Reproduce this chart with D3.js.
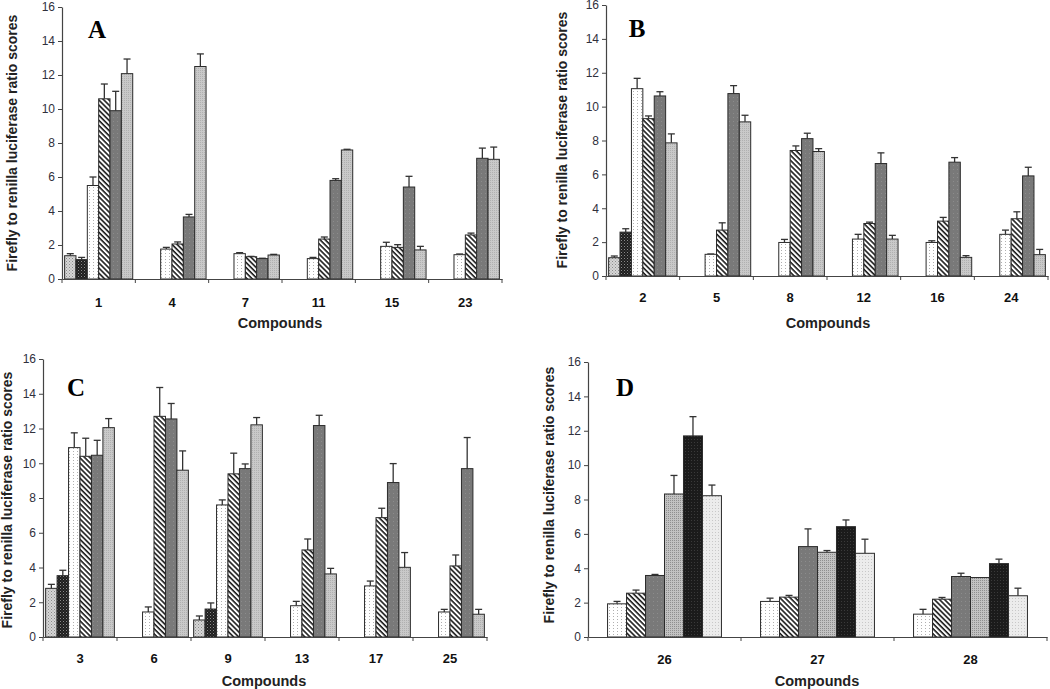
<!DOCTYPE html>
<html>
<head>
<meta charset="utf-8">
<script src="https://cdn.jsdelivr.net/npm/d3@7"></script>
<style>
  html, body { margin: 0; padding: 0; background: #fff; }
  svg { display: block; }
</style>
</head>
<body>
<svg id="chart" width="1050" height="689"></svg>
<script>
// ---------------- DATA ----------------
const yTicks = [0, 2, 4, 6, 8, 10, 12, 14, 16];
const yLabel = "Firefly to renilla luciferase ratio scores";
const xLabel = "Compounds";

// Panel A
const catsA = ["1", "4", "7", "11", "15", "23"];
const valsA = [
  [1.37, null, null, null, null, null],
  [1.14, null, null, null, null, null],
  [5.5, 1.76, 1.49, 1.2, 1.92, 1.43],
  [10.6, 2.06, 1.31, 2.35, 1.86, 2.59],
  [9.9, 3.65, 1.2, 5.8, 5.41, 7.1],
  [12.08, 12.5, 1.41, 7.59, 1.71, 7.04]
];
const errA = [
  [0.12, null, null, null, null, null],
  [0.13, null, null, null, null, null],
  [0.5, 0.1, 0.06, 0.07, 0.24, 0.04],
  [0.87, 0.12, 0.02, 0.12, 0.16, 0.11],
  [1.14, 0.15, 0.02, 0.1, 0.63, 0.6],
  [0.86, 0.74, 0.04, 0.04, 0.21, 0.72]
];

// Panel B
const catsB = ["2", "5", "8", "12", "16", "24"];
const valsB = [
  [1.08, null, null, null, null, null],
  [2.59, null, null, null, null, null],
  [11.06, 1.28, 1.98, 2.18, 1.98, 2.46],
  [9.29, 2.71, 7.41, 3.1, 3.24, 3.38],
  [10.63, 10.77, 8.11, 6.64, 6.72, 5.91],
  [7.86, 9.1, 7.35, 2.18, 1.1, 1.26]
];
const errB = [
  [0.1, null, null, null, null, null],
  [0.2, null, null, null, null, null],
  [0.61, 0.02, 0.18, 0.28, 0.1, 0.25],
  [0.16, 0.43, 0.27, 0.08, 0.22, 0.41],
  [0.25, 0.47, 0.32, 0.63, 0.27, 0.51],
  [0.53, 0.39, 0.17, 0.22, 0.1, 0.31]
];

// Panel C
const catsC = ["3", "6", "9", "13", "17", "25"];
const valsC = [
  [2.8, null, 0.98, null, null, null],
  [3.53, null, 1.61, null, null, null],
  [10.9, 1.44, 7.6, 1.8, 2.94, 1.44],
  [10.4, 12.7, 9.39, 5.01, 6.87, 4.09],
  [10.46, 12.55, 9.69, 12.17, 8.89, 9.69],
  [12.05, 9.6, 12.21, 3.63, 4.01, 1.31]
];
const errC = [
  [0.23, null, 0.23, null, null, null],
  [0.31, null, 0.35, null, null, null],
  [0.85, 0.29, 0.29, 0.25, 0.28, 0.15],
  [1.04, 1.66, 1.19, 0.63, 0.54, 0.63],
  [0.86, 0.89, 0.27, 0.59, 1.09, 1.79],
  [0.52, 1.11, 0.42, 0.32, 0.85, 0.28]
];

// Panel D
const catsD = ["26", "27", "28"];
const valsD = [
  [1.93, 2.07, 1.33],
  [2.55, 2.32, 2.2],
  [3.58, 5.26, 3.52],
  [8.32, 4.93, 3.46],
  [11.7, 6.42, 4.27],
  [8.22, 4.87, 2.4]
];
const errD = [
  [0.14, 0.19, 0.28],
  [0.18, 0.1, 0.1],
  [0.06, 1.03, 0.19],
  [1.08, 0.1, 0],
  [1.12, 0.39, 0.26],
  [0.62, 0.82, 0.44]
];

// ---------------- PATTERNS ----------------
const SANS = "Arial, 'Liberation Sans', sans-serif";
const SERIF = "'Liberation Serif', 'Times New Roman', 'DejaVu Serif', serif";
const svg = d3.select("#chart");
const defs = svg.append("defs");

function pat(id, w, h, bg, shapes, transform) {
  const p = defs.append("pattern").attr("id", id)
    .attr("patternUnits", "userSpaceOnUse").attr("width", w).attr("height", h);
  if (transform) p.attr("patternTransform", transform);
  p.append("rect").attr("width", w).attr("height", h).attr("fill", bg);
  shapes.forEach(s => p.append("rect").attr("x", s[0]).attr("y", s[1])
    .attr("width", s[2]).attr("height", s[3]).attr("fill", s[4]));
}
pat("p1", 3, 3, "#d6d6d6", [[0, 0, 1, 1, "#8a8a8a"], [1.5, 1.5, 1, 1, "#9a9a9a"]]);
pat("p2", 3, 3, "#1e1e1e", [[0, 0, 1, 1, "#8a8a8a"], [1.5, 1.5, 1, 1, "#555"]]);
pat("p3", 4, 3, "#ffffff", [[1, 1, 1, 1, "#b0b0b0"]]);
pat("p4", 3.6, 3.6, "#ffffff", [[0, 0, 3.6, 1.6, "#1a1a1a"]], "rotate(45)");
pat("p5", 4, 4, "#797979", [[1, 1, 1, 1, "#8c8c8c"]]);
pat("p6", 2, 2, "#c9c9c9", [[0, 0, 1, 1, "#b0b0b0"]]);
pat("d4", 2, 2, "#c2c2c2", [[0, 0, 1, 1, "#8f8f8f"]]);
pat("d5", 3, 3, "#1b1b1b", [[1, 1, 1, 1, "#3a3a3a"]]);
pat("d6", 3, 3, "#ececec", [[1, 1, 1, 1, "#c8c8c8"]]);

const patsABC = ["p1", "p2", "p3", "p4", "p5", "p6"];
const patsD = ["p3", "p4", "p5", "d4", "d5", "d6"];

// ---------------- PANELS ----------------
const panels = [
  { letter: "A", cats: catsA, vals: valsA, errs: errA, pats: patsABC,
    left: 62, right: 502, top: 7, bottom: 279, outer: 0.23,
    tickPad: 19, xLabelX: 280, xLabelY: 323, yLabelX: 12.5, yLabelY: 143,
    letterX: 97, letterY: 38 },
  { letter: "B", cats: catsB, vals: valsB, errs: errB, pats: patsABC,
    left: 606, right: 1048, top: 5, bottom: 276, outer: 0.23,
    tickPad: 17, xLabelX: 828, xLabelY: 323, yLabelX: 562, yLabelY: 140,
    letterX: 637, letterY: 37 },
  { letter: "C", cats: catsC, vals: valsC, errs: errC, pats: patsABC,
    left: 43, right: 487, top: 359, bottom: 637, outer: 0.23,
    tickPad: 17, xLabelX: 264, xLabelY: 681, yLabelX: 7.5, yLabelY: 500,
    letterX: 76, letterY: 396 },
  { letter: "D", cats: catsD, vals: valsD, errs: errD, pats: patsD,
    left: 588, right: 1047, top: 362, bottom: 637, outer: 1.03,
    tickPad: 18, xLabelX: 817, xLabelY: 681, yLabelX: 549, yLabelY: 495,
    letterX: 625, letterY: 396 }
];

panels.forEach(p => {
  const g = svg.append("g");
  const x = d3.scaleBand().domain(p.cats).range([p.left, p.right]).padding(0);
  const xs = d3.scaleBand().domain(d3.range(p.vals.length))
    .range([0, x.bandwidth()]).paddingInner(0).paddingOuter(p.outer);
  const y = d3.scaleLinear().domain([0, 16]).range([p.bottom, p.top]);

  const barData = [];
  p.vals.forEach((series, si) => series.forEach((v, ci) => {
    if (v != null) barData.push({ si, ci, v, e: p.errs[si][ci] });
  }));

  const eg = g.append("g");
  barData.forEach(d => {
    if (!d.e) return;
    const cx = x(p.cats[d.ci]) + xs(d.si) + xs.bandwidth() / 2;
    eg.append("line").attr("x1", cx).attr("x2", cx)
      .attr("y1", y(d.v)).attr("y2", y(d.v + d.e))
      .attr("stroke", "#333").attr("stroke-width", 1.3);
    eg.append("line").attr("x1", cx - 3.5).attr("x2", cx + 3.5)
      .attr("y1", y(d.v + d.e)).attr("y2", y(d.v + d.e))
      .attr("stroke", "#333").attr("stroke-width", 1.3);
  });

  g.append("g").selectAll("rect").data(barData).join("rect")
    .attr("x", d => x(p.cats[d.ci]) + xs(d.si))
    .attr("y", d => y(d.v))
    .attr("width", xs.bandwidth())
    .attr("height", d => y(0) - y(d.v))
    .attr("fill", d => `url(#${p.pats[d.si]})`)
    .attr("stroke", "#2b2b2b").attr("stroke-width", 1);

  const ya = g.append("g").attr("transform", `translate(${p.left},0)`)
    .call(d3.axisLeft(y).tickValues(yTicks).tickSize(4).tickPadding(3).tickSizeOuter(0));
  ya.select(".domain").attr("stroke", "#444").attr("stroke-width", 1.2);
  ya.selectAll(".tick line").attr("stroke", "#444");
  ya.selectAll(".tick text").style("font-size", "12px").attr("fill", "#30303c")
    .style("font-family", SANS);

  const xa = g.append("g").attr("transform", `translate(0,${p.bottom})`)
    .call(d3.axisBottom(x).tickSize(0).tickPadding(p.tickPad).tickSizeOuter(0));
  xa.select(".domain").attr("stroke", "#444").attr("stroke-width", 1.2);
  xa.selectAll(".tick text").style("font-size", "13px").style("font-weight", "bold")
    .attr("fill", "#111").style("font-family", SANS);
  const bounds = p.cats.map(c => x(c)).concat([p.right]);
  xa.selectAll("line.bt").data(bounds).join("line").attr("class", "bt")
    .attr("x1", d => d).attr("x2", d => d).attr("y1", 0).attr("y2", 4)
    .attr("stroke", "#444").attr("stroke-width", 1);

  g.append("text").attr("x", p.xLabelX).attr("y", p.xLabelY).attr("dy", "0.35em")
    .attr("text-anchor", "middle").style("font-size", "14.5px").style("font-weight", "bold")
    .style("font-family", SANS).attr("fill", "#222").text(xLabel);
  g.append("text")
    .attr("transform", `translate(${p.yLabelX},${p.yLabelY}) rotate(-90)`)
    .attr("dy", "0.35em").attr("text-anchor", "middle")
    .style("font-size", "14px").style("font-weight", "bold").style("font-family", SANS)
    .attr("fill", "#222").text(yLabel);

  g.append("text").attr("x", p.letterX).attr("y", p.letterY)
    .attr("text-anchor", "middle").style("font-size", "25px").style("font-weight", "bold")
    .style("font-family", SERIF)
    .attr("fill", "#000").text(p.letter);
});
</script>
</body>
</html>
